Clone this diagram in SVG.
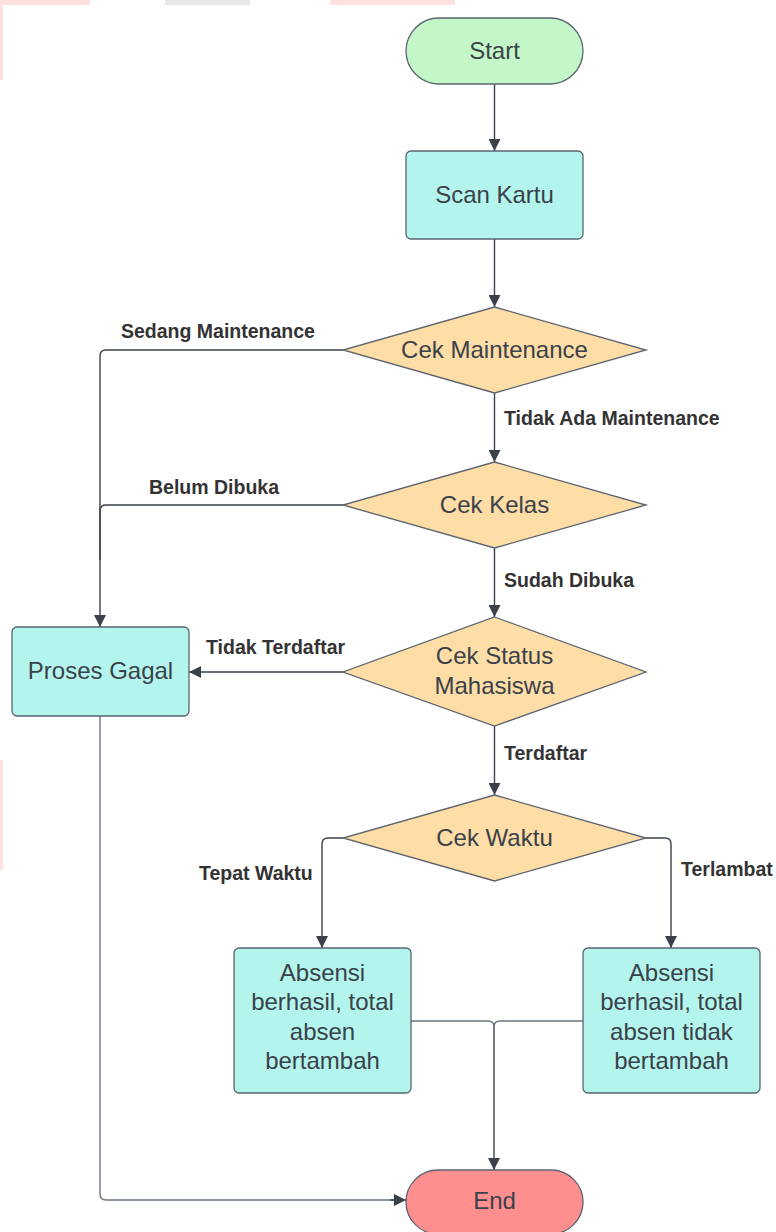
<svg xmlns="http://www.w3.org/2000/svg" width="776" height="1232" viewBox="0 0 776 1232">
<style>
.node{stroke:#5a6470;stroke-width:1.3}
.term{fill:#c3f7c8}
.proc{fill:#b3f5ec}
.dec{fill:#ffdda6}
.end{fill:#ff8f8f}
.t{font-family:"Liberation Sans",Arial,sans-serif;font-size:24px;fill:#3a414a;text-anchor:middle}
.lbl{font-family:"Liberation Sans",Arial,sans-serif;font-size:19.5px;font-weight:bold;fill:#333333}
.c{fill:none;stroke:#3a414a;stroke-width:1.4}
.c2{fill:none;stroke:#6a7480;stroke-width:1.4}
</style>
<defs>
<marker id="arr" viewBox="0 0 12 12" refX="12" refY="6" markerWidth="12" markerHeight="12" markerUnits="userSpaceOnUse" orient="auto">
<path d="M0,0 L12,6 L0,12 Z" fill="#3a414a"/>
</marker>
</defs>
<rect width="776" height="1232" fill="#ffffff"/>
<g id="watermark" opacity="0.18">
<rect x="0" y="0" width="90" height="5" fill="#ff5a5a"/>
<rect x="330" y="0" width="125" height="5" fill="#ff5a5a"/>
<rect x="165" y="0" width="85" height="5" fill="#808080"/>
<rect x="0" y="0" width="3" height="80" fill="#ff5a5a"/>
<rect x="0" y="760" width="3" height="110" fill="#ff5a5a"/>
</g>
<g id="connectors">
<path class="c" d="M494.5,84 V151" marker-end="url(#arr)"/>
<path class="c" d="M494.5,239 V307" marker-end="url(#arr)"/>
<path class="c" d="M343,350 H106 Q100,350 100,356 V627" marker-end="url(#arr)"/>
<path class="c" d="M494.5,393 V462" marker-end="url(#arr)"/>
<path class="c" d="M343,505 H106 Q100,505 100,511 V560"/>
<path class="c" d="M494.5,548 V617" marker-end="url(#arr)"/>
<path class="c" d="M343,672 H189" marker-end="url(#arr)"/>
<path class="c" d="M494.5,726 V795" marker-end="url(#arr)"/>
<path class="c" d="M343,838 H328 Q322,838 322,844 V948" marker-end="url(#arr)"/>
<path class="c" d="M646,838 H665 Q671,838 671,844 V948" marker-end="url(#arr)"/>
<path class="c2" d="M411,1021 H488 Q494,1021 494,1027"/>
<path class="c2" d="M583,1021 H500 Q494,1021 494,1027"/>
<path class="c" d="M494,1027 V1170" marker-end="url(#arr)"/>
<path class="c2" d="M100,716 V1194 Q100,1200 106,1200 H400"/>
<path class="c" d="M390,1200 H406" marker-end="url(#arr)"/>
<text class="lbl" x="121" y="338">Sedang Maintenance</text>
<text class="lbl" x="504" y="425">Tidak Ada Maintenance</text>
<text class="lbl" x="149" y="494">Belum Dibuka</text>
<text class="lbl" x="504" y="587">Sudah Dibuka</text>
<text class="lbl" x="206" y="654">Tidak Terdaftar</text>
<text class="lbl" x="504" y="760">Terdaftar</text>
<text class="lbl" x="199" y="880">Tepat Waktu</text>
<text class="lbl" x="681" y="876">Terlambat</text>
</g>
<g id="start">
<rect class="node term" x="406" y="18" width="177" height="66" rx="33" ry="33"/>
<text class="t" x="494.5" y="59">Start</text>
</g>
<g id="scan">
<rect class="node proc" x="406" y="151" width="177" height="88" rx="5"/>
<text class="t" x="494.5" y="203">Scan Kartu</text>
</g>
<g id="cek-maintenance">
<polygon class="node dec" points="494.5,307 646,350 494.5,393 343,350"/>
<text class="t" x="494.5" y="358">Cek Maintenance</text>
</g>
<g id="cek-kelas">
<polygon class="node dec" points="494.5,462 646,505 494.5,548 343,505"/>
<text class="t" x="494.5" y="513">Cek Kelas</text>
</g>
<g id="cek-status">
<polygon class="node dec" points="494.5,617 646,672 494.5,726 343,672"/>
<text class="t" x="494.5" y="664">Cek Status</text>
<text class="t" x="494.5" y="694">Mahasiswa</text>
</g>
<g id="proses-gagal">
<rect class="node proc" x="12" y="627" width="177" height="89" rx="5"/>
<text class="t" x="100.5" y="679">Proses Gagal</text>
</g>
<g id="cek-waktu">
<polygon class="node dec" points="494.5,795 646,838 494.5,881 343,838"/>
<text class="t" x="494.5" y="846">Cek Waktu</text>
</g>
<g id="absensi-tepat">
<rect class="node proc" x="234" y="948" width="177" height="145" rx="5"/>
<text class="t" x="322.5" y="981">Absensi</text>
<text class="t" x="322.5" y="1010">berhasil, total</text>
<text class="t" x="322.5" y="1040">absen</text>
<text class="t" x="322.5" y="1069">bertambah</text>
</g>
<g id="absensi-terlambat">
<rect class="node proc" x="583" y="948" width="177" height="145" rx="5"/>
<text class="t" x="671.5" y="981">Absensi</text>
<text class="t" x="671.5" y="1010">berhasil, total</text>
<text class="t" x="671.5" y="1040">absen tidak</text>
<text class="t" x="671.5" y="1069">bertambah</text>
</g>
<g id="end">
<rect class="node end" x="406" y="1170" width="177" height="64" rx="32" ry="32"/>
<text class="t" x="494.5" y="1209">End</text>
</g>
</svg>
